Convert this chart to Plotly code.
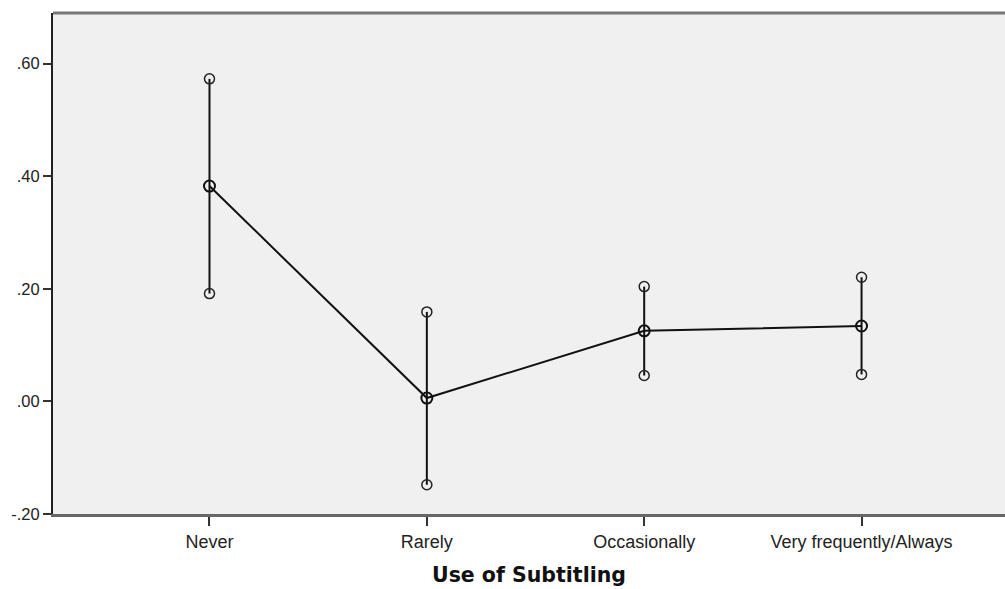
import plotly.graph_objects as go

categories = ["Never", "Rarely", "Occasionally", "Very frequently/Always"]
means = [0.3826, 0.006, 0.1254, 0.134]
upper = [0.573, 0.159, 0.204, 0.2206]
lower = [0.1916, -0.148, 0.046, 0.048]
ytick_vals = [-0.2, 0.0, 0.2, 0.4, 0.6]
ytick_text = ["-.20", ".00", ".20", ".40", ".60"]

fig = go.Figure()

# whiskers
wx, wy = [], []
for c, lo, hi in zip(categories, lower, upper):
    wx += [c, c, None]
    wy += [lo, hi, None]
fig.add_trace(go.Scatter(x=wx, y=wy, mode="lines",
                         line=dict(color="#111111", width=2),
                         hoverinfo="skip", showlegend=False))
# whisker end circles
fig.add_trace(go.Scatter(x=categories + categories, y=upper + lower, mode="markers",
                         marker=dict(symbol="circle-open", size=10, color="#222222",
                                     line=dict(width=1.5)),
                         showlegend=False))
# mean line
fig.add_trace(go.Scatter(x=categories, y=means, mode="lines+markers",
                         line=dict(color="#111111", width=2),
                         marker=dict(symbol="circle-open", size=11, color="#111111",
                                     line=dict(width=2)),
                         showlegend=False))

fig.update_layout(
    width=1005, height=589,
    margin=dict(l=53, r=0, t=13, b=75),
    paper_bgcolor="white",
    plot_bgcolor="#F0F0F0",
    font=dict(family="Liberation Sans, Arial", size=16, color="#222222"),
    xaxis=dict(type="category", range=[-0.72, 3.66], showgrid=False,
               showline=True, linecolor="#666666", linewidth=3,
               ticks="outside", ticklen=9, tickwidth=2, tickcolor="#333333",
               tickfont=dict(size=18),
               title=dict(text="<b>Use of Subtitling</b>",
                          font=dict(family="DejaVu Sans", size=20.5, color="#111111"),
                          standoff=18),
               zeroline=False),
    yaxis=dict(range=[-0.2, 0.69], showgrid=False, zeroline=False,
               showline=True, linecolor="#222222", linewidth=2,
               tickvals=ytick_vals, ticktext=ytick_text,
               ticks="outside", ticklen=8, tickwidth=2, tickcolor="#333333",
               tickfont=dict(size=16.5)),
    shapes=[dict(type="line", xref="paper", yref="paper", x0=0, x1=1, y0=1, y1=1,
                 line=dict(color="#777777", width=3))],
)

fig.write_html("out.html")
